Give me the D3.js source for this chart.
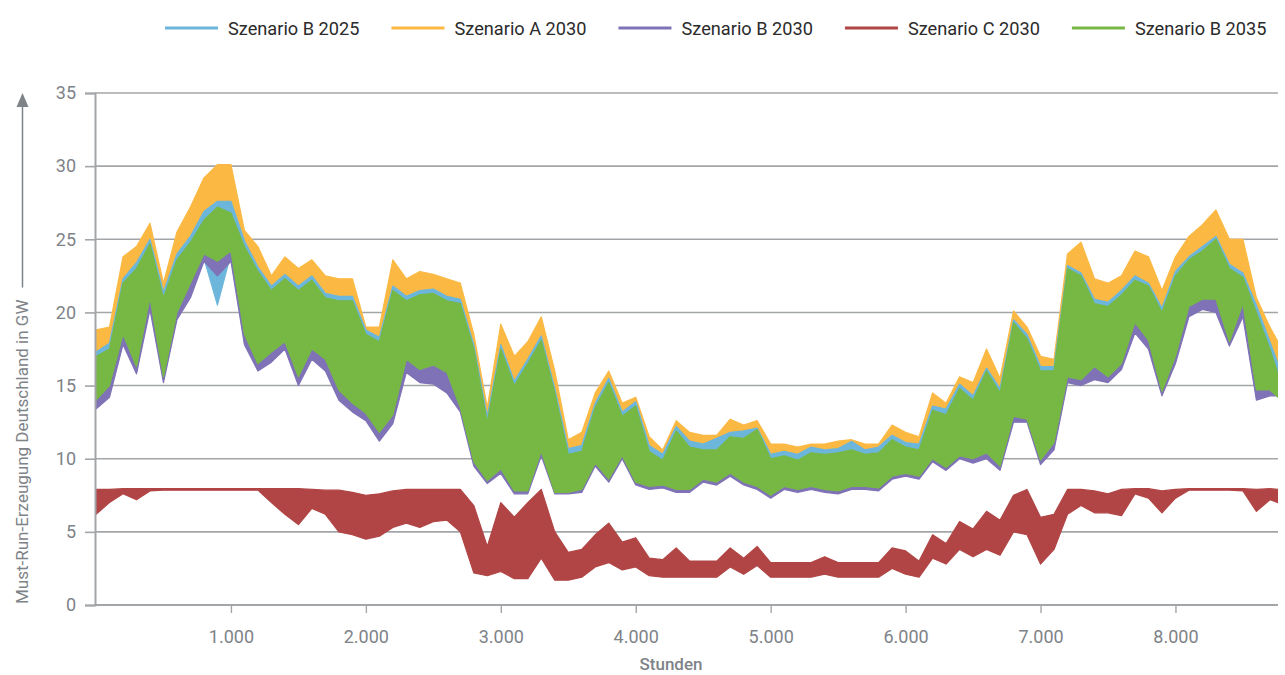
<!DOCTYPE html>
<html>
<head>
<meta charset="utf-8">
<script src="https://cdn.jsdelivr.net/npm/d3@7"></script>
<style>
  body { margin: 0; background: #fff; }
  svg { font-family: Roboto, "Noto Sans", sans-serif; }
</style>
</head>
<body>
<svg id="chart" width="1285" height="675"></svg>
<script>
// Stunden: Mittelpunkte der 100-h-Abschnitte, Werte = Min/Max je Abschnitt (GW)
var hours = d3.range(0, 8800, 100).concat([8760]);

var seriesNames = ["Szenario B 2025", "Szenario A 2030", "Szenario B 2030", "Szenario C 2030", "Szenario B 2035"];
var seriesColors = ["#6cb6dc", "#fbb944", "#7f72b6", "#b14545", "#77b845"];

var yTicks = [0, 5, 10, 15, 20, 25, 30, 35];
var xTicks = [1000, 2000, 3000, 4000, 5000, 6000, 7000, 8000];

// Szenario B 2025
var b2025Hi = [17.3,17.9,22.3,23.4,25.0,21.4,24.0,25.2,26.9,27.6,
  27.6,24.9,23.1,21.8,22.6,21.8,22.5,21.3,21.1,21.1,
  18.8,18.3,21.8,21.1,21.5,21.6,21.1,20.9,17.8,12.9,
  17.8,15.3,16.8,18.4,14.8,10.7,10.9,13.8,15.5,13.2,
  13.9,10.9,10.3,12.2,11.2,11.0,11.4,11.8,11.9,12.1,
  10.3,10.5,10.3,10.8,10.6,10.7,11.2,10.6,10.8,11.6,
  11.1,11.0,13.6,13.4,15.1,14.3,16.2,14.8,19.5,18.5,
  16.3,16.3,23.2,22.7,20.9,20.7,21.5,22.5,22.0,20.3,
  22.8,23.8,24.5,25.2,23.3,22.7,20.5,18.0,16.5];
var b2025Lo = [13.7,14.6,18.2,15.9,20.6,15.4,19.8,21.5,23.7,20.5,
  24.0,18.0,16.2,17.0,17.8,15.3,17.2,16.4,14.4,13.5,
  12.9,11.5,12.7,16.4,15.7,15.8,15.2,13.4,9.7,8.4,
  9.2,7.7,7.7,10.4,7.7,7.7,7.8,9.6,8.5,10.1,
  8.3,8.0,8.1,7.8,7.8,8.5,8.3,8.9,8.3,8.0,
  7.4,8.0,7.8,8.0,7.8,7.7,8.0,8.0,7.9,8.7,
  8.9,8.7,9.9,9.3,10.1,9.9,10.2,9.4,12.7,12.6,
  9.8,10.9,15.4,15.2,15.9,15.4,16.3,19.0,17.8,14.5,
  16.8,20.1,20.6,20.5,17.9,20.2,14.4,14.5,14.6];

// Szenario A 2030
var a2030Hi = [18.8,19.0,23.8,24.5,26.1,22.0,25.5,27.2,29.2,30.1,
  30.1,25.6,24.5,22.5,23.8,23.0,23.6,22.5,22.3,22.3,
  19.0,19.0,23.6,22.3,22.8,22.6,22.3,22.0,18.5,13.5,
  19.2,17.0,18.0,19.7,16.0,11.3,11.8,14.5,16.0,13.8,
  14.2,11.5,10.6,12.6,11.8,11.6,11.6,12.7,12.3,12.6,
  11.0,11.0,10.8,11.0,11.0,11.2,11.3,11.0,11.0,12.3,
  11.8,11.5,14.5,13.8,15.6,15.2,17.5,15.5,20.1,19.0,
  17.0,16.8,24.0,24.8,22.3,22.0,22.5,24.2,23.8,21.5,
  23.8,25.2,26.0,27.0,25.0,25.0,21.0,19.0,18.0];
var a2030Lo = [15.5,16.4,20.0,17.5,22.5,17.0,21.5,23.5,25.5,25.0,
  26.0,20.0,18.0,18.8,19.5,17.0,19.0,18.2,16.0,15.0,
  14.4,13.0,14.3,18.2,17.5,17.8,17.2,14.8,10.9,9.4,
  10.3,8.6,8.6,11.6,8.5,8.5,8.8,10.7,9.5,11.2,
  9.3,9.0,9.1,8.8,8.8,9.6,9.4,10.0,9.4,9.0,
  8.4,9.0,8.8,9.0,8.8,8.7,9.0,9.0,8.9,9.8,
  10.0,9.8,11.1,10.4,11.3,11.1,11.6,10.5,14.2,14.0,
  11.0,12.3,17.0,16.9,17.8,17.1,18.0,21.0,19.7,16.0,
  18.6,22.2,22.8,22.8,19.7,22.4,16.1,16.1,15.6];

// Szenario B 2030
var b2030Hi = [16.0,16.5,21.0,22.0,23.6,20.0,22.6,23.8,25.3,26.0,
  25.7,23.5,21.8,20.5,21.3,20.5,21.2,20.0,19.8,19.8,
  17.5,17.0,20.5,19.8,20.2,20.3,19.8,19.6,16.5,11.8,
  16.5,14.2,15.5,17.2,13.6,9.7,9.9,12.8,14.4,12.2,
  12.9,9.9,9.3,11.2,10.2,10.0,10.0,10.9,10.8,11.4,
  9.4,9.6,9.3,9.8,9.7,9.8,10.0,9.7,9.8,10.6,
  10.2,10.0,12.6,12.3,14.0,13.2,15.1,13.7,18.3,17.2,
  15.1,15.1,21.8,21.3,19.5,19.3,20.1,21.0,20.6,19.0,
  21.3,22.4,23.0,23.7,21.8,21.2,19.0,16.5,15.0];
var b2030Lo = [13.4,14.2,17.8,15.8,20.2,15.2,19.5,21.0,23.5,22.5,
  23.5,17.8,16.0,16.6,17.5,15.0,16.8,16.0,14.0,13.2,
  12.6,11.2,12.4,15.9,15.2,15.1,14.5,13.2,9.5,8.3,
  9.0,7.6,7.6,10.2,7.6,7.6,7.7,9.5,8.4,10.0,
  8.2,7.9,8.0,7.7,7.7,8.4,8.2,8.8,8.2,7.9,
  7.3,7.9,7.7,7.9,7.7,7.6,7.9,7.9,7.8,8.6,
  8.8,8.6,9.8,9.2,10.0,9.7,10.0,9.2,12.5,12.5,
  9.6,10.6,15.2,15.0,15.4,15.2,16.1,18.6,17.5,14.3,
  16.5,19.7,20.2,20.0,17.7,19.7,14.0,14.3,14.3];

// Szenario C 2030
var c2030Hi = [7.9,7.9,7.95,7.95,7.95,7.95,7.95,7.95,7.95,7.95,
  7.95,7.95,7.95,7.95,7.95,7.95,7.9,7.85,7.85,7.7,
  7.5,7.6,7.8,7.9,7.9,7.9,7.9,7.9,6.8,4.0,
  7.0,6.0,7.0,7.9,5.0,3.6,3.8,4.8,5.6,4.3,
  4.6,3.2,3.1,3.9,3.0,3.0,3.0,3.9,3.2,4.0,
  2.9,2.9,2.9,2.9,3.3,2.9,2.9,2.9,2.9,3.9,
  3.7,3.0,4.8,4.2,5.7,5.2,6.4,5.8,7.5,7.9,
  6.0,6.2,7.9,7.9,7.8,7.6,7.9,7.95,7.95,7.8,
  7.9,7.95,7.95,7.95,7.95,7.95,7.9,7.95,7.9];
var c2030Lo = [6.2,7.0,7.6,7.2,7.8,7.85,7.85,7.85,7.85,7.85,
  7.85,7.85,7.85,7.0,6.2,5.5,6.6,6.2,5.0,4.8,
  4.5,4.7,5.3,5.6,5.3,5.7,5.8,5.0,2.2,2.0,
  2.3,1.8,1.8,3.2,1.7,1.7,1.9,2.6,2.9,2.4,
  2.6,2.0,1.9,1.9,1.9,1.9,1.9,2.6,2.1,2.7,
  1.9,1.9,1.9,1.9,2.1,1.9,1.9,1.9,1.9,2.5,
  2.1,1.9,3.2,2.8,3.8,3.3,3.8,3.4,5.0,4.8,
  2.8,3.8,6.2,6.8,6.3,6.3,6.1,7.6,7.3,6.3,
  7.3,7.85,7.85,7.85,7.85,7.8,6.4,7.2,7.0];

// Szenario B 2035
var b2035Hi = [17.0,17.5,22.0,23.0,24.7,21.0,23.6,24.8,26.3,27.2,
  26.8,24.5,22.8,21.5,22.3,21.5,22.2,21.0,20.8,20.8,
  18.5,18.0,21.5,20.8,21.2,21.3,20.8,20.6,17.5,12.5,
  17.5,15.0,16.5,18.1,14.5,10.3,10.5,13.5,15.2,12.9,
  13.6,10.5,9.9,11.9,10.8,10.6,10.6,11.5,11.4,12.0,
  10.0,10.2,9.9,10.4,10.3,10.4,10.6,10.3,10.4,11.3,
  10.8,10.6,13.3,13.0,14.8,14.0,16.0,14.5,19.3,18.2,
  16.0,16.0,23.0,22.5,20.6,20.4,21.2,22.2,21.8,20.0,
  22.5,23.6,24.2,25.0,23.0,22.4,20.0,17.5,15.8];
var b2035Lo = [14.0,15.0,18.5,16.3,21.0,15.6,20.0,22.0,24.0,23.5,
  24.2,18.5,16.5,17.3,18.0,15.6,17.5,16.8,14.7,13.8,
  13.1,11.8,13.0,16.8,16.1,16.4,15.9,13.5,9.8,8.5,
  9.3,7.8,7.8,10.5,7.7,7.7,7.9,9.7,8.6,10.2,
  8.4,8.1,8.2,7.9,7.9,8.6,8.4,9.0,8.4,8.1,
  7.5,8.1,7.9,8.1,7.9,7.8,8.1,8.1,8.0,8.8,
  9.0,8.8,10.0,9.4,10.2,10.0,10.4,9.5,12.9,12.7,
  9.9,11.1,15.6,15.4,16.3,15.6,16.5,19.3,18.1,14.6,
  17.0,20.4,20.9,20.9,18.0,20.6,14.7,14.7,14.2];

// drawing order (later = on top)
var bands = [
  {name: seriesNames[1], color: seriesColors[1], lo: a2030Lo, hi: a2030Hi},
  {name: seriesNames[0], color: seriesColors[0], lo: b2025Lo, hi: b2025Hi},
  {name: seriesNames[2], color: seriesColors[2], lo: b2030Lo, hi: b2030Hi},
  {name: seriesNames[3], color: seriesColors[3], lo: c2030Lo, hi: c2030Hi},
  {name: seriesNames[4], color: seriesColors[4], lo: b2035Lo, hi: b2035Hi}
];

var svg = d3.select("#chart");
var plotLeft = 96, plotRight = 1278, plotTop = 93, plotBottom = 605;
var gray = "#a3a6a9";
var labelGray = "#7e8388";

var x = d3.scaleLinear().domain([0, 8760]).range([plotLeft, plotRight]);
var y = d3.scaleLinear().domain([0, 35]).range([plotBottom, plotTop]);

var de = d3.formatLocale({decimal: ",", thousands: ".", grouping: [3], currency: ["", " €"]});
var fmt = de.format(",");

// gridlines
svg.append("g").selectAll("line")
  .data(yTicks.filter(function(d) { return d > 0; }))
  .enter().append("line")
  .attr("x1", plotLeft - 1).attr("x2", plotRight)
  .attr("y1", function(d) { return y(d); })
  .attr("y2", function(d) { return y(d); })
  .attr("stroke", gray).attr("stroke-width", 1.6);

// bands
svg.append("clipPath").attr("id", "clip").append("rect")
  .attr("x", plotLeft).attr("y", plotTop - 10)
  .attr("width", plotRight - plotLeft).attr("height", plotBottom - plotTop + 10);

var plot = svg.append("g").attr("clip-path", "url(#clip)");
bands.forEach(function(s) {
  var area = d3.area()
    .x(function(d, i) { return x(hours[i]); })
    .y0(function(d, i) { return y(s.lo[i]); })
    .y1(function(d, i) { return y(s.hi[i]); });
  plot.append("path")
    .datum(hours)
    .attr("d", area)
    .attr("fill", s.color)
    .attr("stroke", s.color)
    .attr("stroke-width", 1.2)
    .attr("stroke-linejoin", "round");
});

// y axis
var yAxis = svg.append("g")
  .attr("transform", "translate(" + (plotLeft - 1) + ",0)")
  .call(d3.axisLeft(y).tickValues(yTicks).tickSize(10).tickPadding(9));
yAxis.select(".domain").attr("stroke", gray).attr("stroke-width", 2);
yAxis.selectAll(".tick line").attr("stroke", gray).attr("stroke-width", 1.6);
yAxis.selectAll("text").attr("fill", labelGray).attr("font-size", 18).attr("font-family", "Roboto");

// x axis
var xAxis = svg.append("g")
  .attr("transform", "translate(0," + plotBottom + ")")
  .call(d3.axisBottom(x).tickValues(xTicks).tickFormat(fmt).tickSize(8).tickPadding(17));
xAxis.select(".domain").remove();
xAxis.append("line").attr("x1", plotLeft - 2).attr("x2", plotRight).attr("stroke", gray).attr("stroke-width", 2);
xAxis.selectAll(".tick line").attr("stroke", gray).attr("stroke-width", 1.4);
xAxis.selectAll("text").attr("fill", labelGray).attr("font-size", 18).attr("font-family", "Roboto");

// axis titles
svg.append("text")
  .attr("x", 671).attr("y", 670)
  .attr("text-anchor", "middle")
  .attr("fill", labelGray).attr("font-size", 17).attr("font-weight", 500)
  .text("Stunden");

var yTitle = svg.append("text")
  .attr("transform", "translate(28," + (plotBottom - 1) + ") rotate(-90)")
  .attr("text-anchor", "start")
  .attr("fill", labelGray).attr("font-size", 17)
  .text("Must-Run-Erzeugung Deutschland in GW");
var titleLen = yTitle.node().getComputedTextLength();
svg.append("line")
  .attr("x1", 22.5).attr("x2", 22.5)
  .attr("y1", plotBottom - 1 - titleLen - 12).attr("y2", plotTop + 10)
  .attr("stroke", labelGray).attr("stroke-width", 1.5);
svg.append("path")
  .attr("d", "M22.5," + plotTop + " L28.5," + (plotTop + 14) + " L16.5," + (plotTop + 14) + " Z")
  .attr("fill", labelGray);

// legend
var lx = 165;
seriesNames.forEach(function(name, i) {
  var g = svg.append("g").attr("transform", "translate(" + lx + ",28)");
  g.append("line").attr("x1", 0).attr("x2", 53).attr("y1", 0).attr("y2", 0)
    .attr("stroke", seriesColors[i]).attr("stroke-width", 3);
  var t = g.append("text").attr("x", 63).attr("y", 6.5)
    .attr("fill", "#2b2b2b").attr("font-size", 18.2)
    .text(name);
  lx += 63 + t.node().getComputedTextLength() + 32;
});
</script>
</body>
</html>
